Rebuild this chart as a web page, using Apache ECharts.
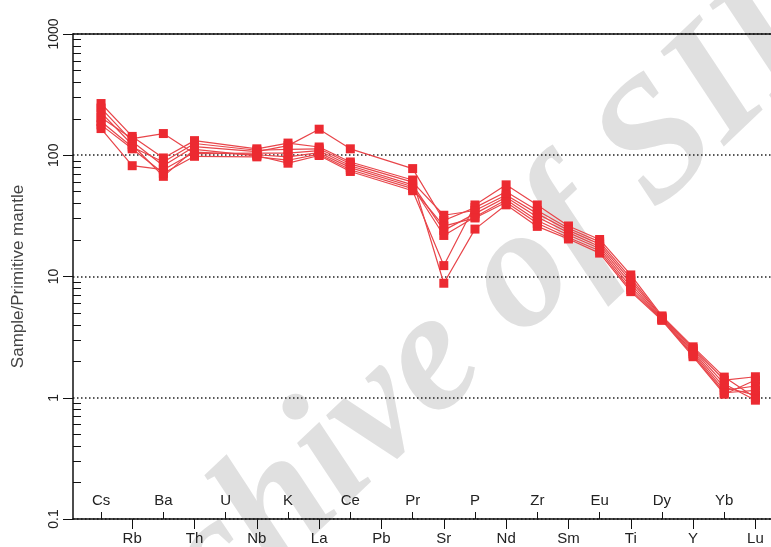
<!DOCTYPE html>
<html>
<head>
<meta charset="utf-8">
<script src="https://cdn.jsdelivr.net/npm/echarts@6/dist/echarts.min.js"></script>
<style>
  html, body { margin: 0; padding: 0; background: #fff; }
  #chart { width: 771px; height: 547px; }
</style>
</head>
<body>
<div id="chart"></div>
<script>
// element order of the spider diagram
const elements = ['Cs', 'Rb', 'Ba', 'Th', 'U', 'Nb', 'K', 'La', 'Ce', 'Pb', 'Pr', 'Sr', 'P', 'Nd', 'Zr', 'Sm', 'Eu', 'Ti', 'Dy', 'Y', 'Yb', 'Lu']

// normalised values per sample (U and Pb not plotted)
const sampleA = [245, 130, 82, 118, null, 107, 120, 164, 113, null, 77.6, 29, 37, 50, 35, 25, 19.3, 9.7, 4.65, 2.55, 1.4, 1.49]
const sampleB = [205, 137, 151, 103, null, 104, 104, 109, 82, null, 57, 24, 33, 45, 31, 23, 17.7, 8.7, 4.5, 2.4, 1.22, 1.05]
const sampleC = [166, 82, 76, 106, null, 101, 97, 105, 79, null, 55, 21.8, 31, 43, 29, 22, 17, 8.2, 4.45, 2.32, 1.15, 1.25]
const sampleD = [267, 143, 95, 132, null, 113, 126, 117, 88, null, 62.5, 8.8, 24.6, 39, 25.9, 20.4, 15.6, 7.5, 4.35, 2.18, 1.07, 1.4]
const sampleE = [225, 122, 67, 112, null, 99, 86, 99.5, 73.5, null, 51, 12.3, 38.9, 57, 38.9, 26.1, 20.2, 10.3, 4.73, 2.63, 1.48, 1.0]
const sampleF = [190, 117, 88, 125, null, 110, 112, 113, 85, null, 60, 32, 35, 47, 33, 24, 18.5, 9.2, 4.58, 2.48, 1.3, 0.955]
const sampleG = [178, 113, 71, 98, null, 97, 91, 102, 76, null, 53, 26, 30.4, 41, 27.5, 21, 16.3, 7.8, 4.4, 2.25, 1.1, 1.15]

const samples = [sampleA, sampleB, sampleC, sampleD, sampleE, sampleF, sampleG]

// y ticks
const yMin = 0.1
const yMax = 1000
const minorValues = [0.2, 0.3, 0.4, 0.5, 0.6, 0.7, 0.8, 0.9, 2, 3, 4, 5, 6, 7, 8, 9, 20, 30, 40, 50, 60, 70, 80, 90, 200, 300, 400, 500, 600, 700, 800, 900]

const lowerRow = elements.map((e, i) => i).filter(i => i % 2 === 1)
const upperRow = elements.map((e, i) => i).filter(i => i % 2 === 0)

const fontFamily = '"Liberation Sans", Arial, sans-serif'

const series = samples.map((s, k) => ({
  name: 'S' + (k + 1),
  type: 'line',
  xAxisIndex: 0,
  yAxisIndex: 0,
  data: s.map((v, i) => [i, v]).filter(d => d[1] !== null),
  symbol: 'rect',
  symbolSize: 9,
  lineStyle: { color: '#e8454a', width: 1.2 },
  itemStyle: { color: '#ec2a31' },
  z: 3,
  animation: false,
}))

const option = {
  animation: false,
  grid: { left: 73, top: 34, right: 0, bottom: 28, outerBoundsMode: 'none' },
  graphic: [
    {
      type: 'text',
      x: 445,
      y: 350,
      rotation: 0.76,
      z: -1,
      silent: true,
      style: {
        text: 'Archive of SID',
        fill: '#e0e0e0',
        font: 'italic bold 172px "Liberation Serif", serif',
        align: 'center',
        verticalAlign: 'middle',
      },
    },
  ],
  xAxis: [
    {
      type: 'value',
      min: -0.9,
      max: 21.5,
      position: 'bottom',
      axisLine: { show: true, onZero: false, lineStyle: { color: '#111', width: 1.5 } },
      axisTick: { show: true, length: 10, customValues: lowerRow, lineStyle: { color: '#111', width: 1 } },
      axisLabel: {
        customValues: lowerRow,
        formatter: v => elements[Math.round(v)],
        margin: 12,
        fontSize: 15,
        color: '#222',
        fontFamily,
      },
      splitLine: { show: false },
    },
    {
      type: 'value',
      min: -0.9,
      max: 21.5,
      position: 'bottom',
      axisLine: { show: false, onZero: false },
      axisTick: { show: true, inside: true, length: 7, customValues: upperRow, lineStyle: { color: '#111', width: 1 } },
      axisLabel: {
        inside: true,
        customValues: upperRow,
        formatter: v => elements[Math.round(v)],
        margin: 11,
        fontSize: 15,
        color: '#222',
        fontFamily,
      },
      splitLine: { show: false },
    },
    {
      type: 'value',
      min: -0.9,
      max: 21.5,
      position: 'top',
      axisLine: { show: true, onZero: false, lineStyle: { color: '#111', width: 1.5 } },
      axisTick: { show: false },
      axisLabel: { show: false },
      splitLine: { show: false },
    },
  ],
  yAxis: [
    {
      type: 'log',
      logBase: 10,
      min: yMin,
      max: yMax,
      position: 'left',
      name: 'Sample/Primitive mantle',
      nameLocation: 'middle',
      nameGap: 46,
      nameTextStyle: { fontSize: 17, color: '#444', fontFamily },
      axisLine: { show: true, onZero: false, lineStyle: { color: '#111', width: 1.5 } },
      axisTick: { show: true, length: 10, lineStyle: { color: '#111', width: 1 } },
      axisLabel: {
        rotate: 90,
        margin: 12,
        fontSize: 14,
        color: '#222',
        fontFamily,
        formatter: v => String(v),
      },
      splitLine: { show: true, lineStyle: { color: '#222', type: [1.5, 2.5], width: 1.5 } },
    },
    {
      type: 'log',
      logBase: 10,
      min: yMin,
      max: yMax,
      position: 'left',
      axisLine: { show: false, onZero: false },
      axisTick: { show: true, inside: true, length: 8, customValues: minorValues, lineStyle: { color: '#111', width: 1 } },
      axisLabel: { show: false },
      splitLine: { show: false },
    },
  ],
  series,
}

const myChart = echarts.init(document.getElementById('chart'))
myChart.setOption(option)
</script>
</body>
</html>
